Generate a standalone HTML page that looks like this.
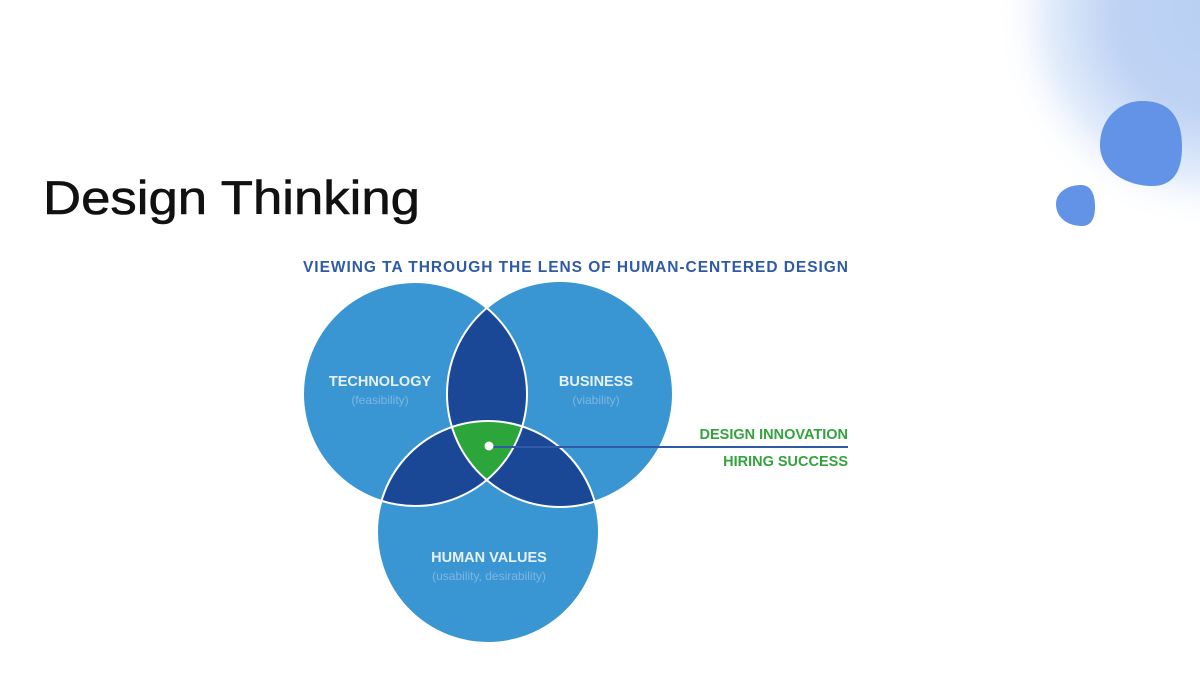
<!DOCTYPE html>
<html><head><meta charset="utf-8"><style>
html,body{margin:0;padding:0;background:#fff;}
body{width:1200px;height:675px;overflow:hidden;position:relative;font-family:"Liberation Sans",sans-serif;}
</style></head><body>
<svg width="1200" height="675" viewBox="0 0 1200 675" style="position:absolute;left:0;top:0">
<defs>
<radialGradient id="glow" cx="1210" cy="15" r="215" gradientUnits="userSpaceOnUse">
<stop offset="0" stop-color="#b9d0f3"/><stop offset="0.45" stop-color="#bfd3f4"/><stop offset="0.75" stop-color="#e2ecfb"/><stop offset="1" stop-color="#ffffff" stop-opacity="0"/>
</radialGradient>
<clipPath id="cT"><circle cx="415" cy="394" r="112"/></clipPath>
<clipPath id="cB"><circle cx="560" cy="394" r="113"/></clipPath>
</defs>
<rect x="940" y="0" width="260" height="280" fill="url(#glow)"/>
<path d="M1140 101 C1168 100 1182 115 1182 147 C1182 175 1170 187 1150 186 C1125 185 1100 170 1100 145 C1100 120 1118 102 1140 101 Z" fill="#6393e6"/>
<path d="M1081 185 C1092 185 1095 196 1095 207 C1095 220 1090 226 1082 226 C1068 226 1056 218 1056 204 C1056 192 1068 185 1081 185 Z" fill="#6393e6"/>
<text x="43" y="214" font-size="47" fill="#111" stroke="#111" stroke-width="0.6" textLength="377" lengthAdjust="spacingAndGlyphs">Design Thinking</text>
<text x="303" y="272" font-size="15.5" font-weight="bold" fill="#2f5aa6" textLength="545">VIEWING TA THROUGH THE LENS OF HUMAN-CENTERED DESIGN</text>
<circle cx="415" cy="394" r="112" fill="#3996d3"/>
<circle cx="560" cy="394" r="113" fill="#3996d3"/>
<circle cx="488" cy="532" r="111" fill="#3996d3"/>
<g clip-path="url(#cT)"><circle cx="560" cy="394" r="113" fill="#1b4797"/></g>
<g clip-path="url(#cT)"><circle cx="488" cy="532" r="111" fill="#1b4797"/></g>
<g clip-path="url(#cB)"><circle cx="488" cy="532" r="111" fill="#1b4797"/></g>
<g clip-path="url(#cT)"><g clip-path="url(#cB)"><circle cx="488" cy="532" r="111" fill="#2ca53a"/></g></g>
<g fill="none" stroke="#fff" stroke-width="2">
<circle cx="415" cy="394" r="112"/><circle cx="560" cy="394" r="113"/><circle cx="488" cy="532" r="111"/>
</g>
<line x1="489" y1="447" x2="848" y2="447" stroke="#2f5aa6" stroke-width="2"/>
<circle cx="489" cy="446" r="4.5" fill="#fff"/>
<g text-anchor="middle" font-weight="bold" fill="#e8f1fa" font-size="14.5">
<text x="380" y="386">TECHNOLOGY</text>
<text x="596" y="386">BUSINESS</text>
<text x="489" y="562">HUMAN VALUES</text>
</g>
<g text-anchor="middle" fill="#7fb6e0" font-size="12">
<text x="380" y="404">(feasibility)</text>
<text x="596" y="404">(viability)</text>
<text x="489" y="580">(usability, desirability)</text>
</g>
<g text-anchor="end" font-weight="bold" fill="#33a33d" font-size="14.5">
<text x="848" y="439">DESIGN INNOVATION</text>
<text x="848" y="466">HIRING SUCCESS</text>
</g>
</svg>
</body></html>
